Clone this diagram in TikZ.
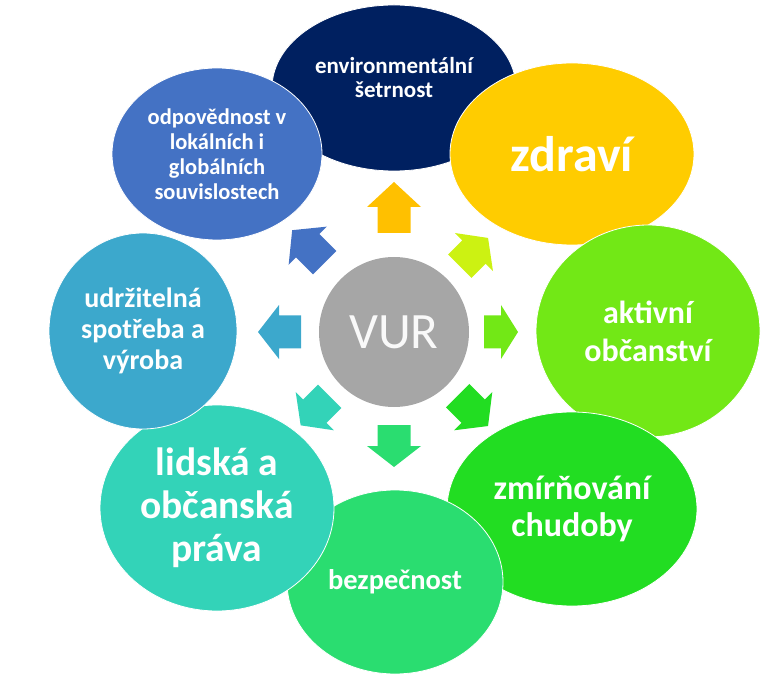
\documentclass[tikz,border=0pt]{standalone}
\usepackage{fontspec}
\setmainfont{Carlito}
\usetikzlibrary{shapes.geometric}
\definecolor{envcol}{HTML}{002060}
\definecolor{zdrcol}{HTML}{FFCC00}
\definecolor{aktcol}{HTML}{72E816}
\definecolor{zmicol}{HTML}{22DD22}
\definecolor{bezcol}{HTML}{2ADD70}
\definecolor{lidcol}{HTML}{33D3B8}
\definecolor{udrcol}{HTML}{3CA8CC}
\definecolor{odpcol}{HTML}{4472C4}
\definecolor{topcol}{HTML}{FFC000}
\definecolor{limecol}{HTML}{CCF212}
\definecolor{vurcol}{HTML}{A6A6A6}
\newcommand{\fs}[2]{\bfseries\fontsize{#1}{#2}\selectfont}
\tikzset{bubble/.style={ellipse, draw=white, line width=0.8pt, text=white, align=center, inner sep=0pt}}

\begin{document}
\begin{tikzpicture}[x=1pt,y=1pt]
	\useasboundingbox (0,0) rectangle (771,689);
	% outer bubbles, clockwise from the top
	\node[bubble, fill=envcol, minimum width=244pt, minimum height=166pt, text depth=21pt, font=\fs{23}{24}] (env) at (394,601) {environmentální\\šetrnost};
	\node[bubble, fill=zdrcol, minimum width=244pt, minimum height=182pt, font=\fs{50}{54}] (zdr) at (572,535) {zdraví};
	\node[bubble, fill=aktcol, minimum width=224pt, minimum height=212pt, font=\fs{32}{38}] (akt) at (648,358) {aktivní\\občanství};
	\node[bubble, fill=zmicol, minimum width=250pt, minimum height=194pt, font=\fs{34}{37}] (zmi) at (572,180) {zmírňování\\chudoby};
	\node[bubble, fill=bezcol, minimum width=216pt, minimum height=184pt, font=\fs{28.5}{30}] (bez) at (395,107) {bezpečnost};
	\node[bubble, fill=lidcol, minimum width=234pt, minimum height=206pt, font=\fs{39.5}{43}] (lid) at (217,181) {lidská a\\občanská\\práva};
	\node[bubble, fill=udrcol, minimum width=188pt, minimum height=196pt, font=\fs{28}{31}] (udr) at (143,358) {udržitelná\\spotřeba a\\výroba};
	\node[bubble, fill=odpcol, minimum width=210pt, minimum height=172pt, font=\fs{22.5}{25}] (odp) at (217,535) {odpovědnost v\\lokálních i\\globálních\\souvislostech};
	% centre
	\node[circle, fill=vurcol, minimum size=150pt, inner sep=0pt, text=white!95!gray, font=\fontsize{51}{60}\selectfont] (vur) at (394,357) {VUR};
	% block arrows out of the centre
	\foreach \ang/\base/\len/\head/\col in {90/99/51/25/topcol, 45/93/40/20/limecol, 0/90/34/17/aktcol, -45/90/43/21/zmicol,
		-90/93/42/21/bezcol, -135/91/41/20/lidcol, 180/93/43/21/udrcol, 135/98/46/22/odpcol}
		\fill[\col, shift={(vur)}, rotate=\ang] (\base,-16.5) -- ({\base+\len-\head},-16.5) -- ({\base+\len-\head},-27)
			-- ({\base+\len},0) -- ({\base+\len-\head},27) -- ({\base+\len-\head},16.5) -- (\base,16.5) -- cycle;
\end{tikzpicture}
\end{document}
